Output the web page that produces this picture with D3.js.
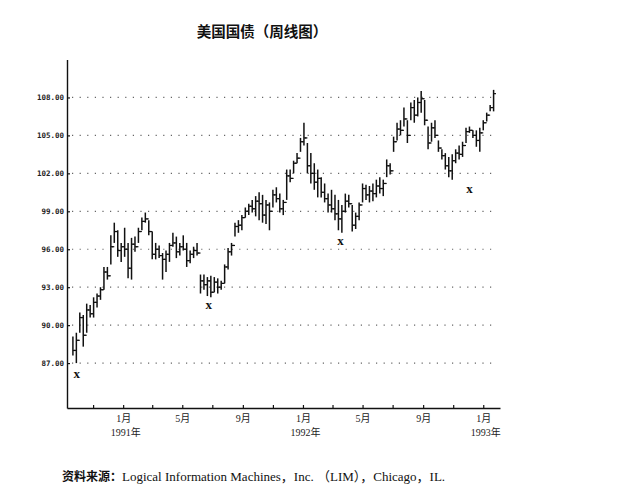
<!DOCTYPE html>
<html>
<head>
<meta charset="utf-8">
<script src="https://cdn.jsdelivr.net/npm/d3@7"></script>
<style>
  html, body { margin: 0; padding: 0; background: #fff; }
  svg { display: block; }
</style>
</head>
<body>
<svg id="chart" width="624" height="492"></svg>
<script>
// ---------------- DATA ----------------
const title = "美国国债（周线图）";
const sourceLabel = "资料来源：";
const sourceText = "Logical Information Machines，Inc. （LIM），Chicago，IL.";
const firstWeek = "1990-09-21";   // weekly bars, one per week from this Friday
const highs = [
  89.1, 89.4, 91.0, 90.8, 91.7, 91.6, 92.2, 92.5, 93.0, 94.6,
  94.6, 97.1, 98.1, 97.5, 96.5, 97.7, 96.5, 96.9, 97.0, 97.7,
  98.5, 98.9, 98.3, 97.4, 96.5, 96.3, 95.7, 95.9, 96.5, 97.3,
  97.0, 96.5, 97.1, 96.5, 95.9, 96.2, 96.5, 94.0, 94.0, 93.8,
  93.9, 93.8, 93.7, 93.5, 94.8, 96.1, 96.5, 98.1, 98.3, 98.7,
  99.3, 99.6, 99.9, 100.2, 100.5, 100.3, 99.9, 99.7, 100.7, 100.9,
  100.4, 99.9, 102.3, 102.3, 103.0, 103.6, 104.8, 106.0, 104.4, 103.6,
  102.8, 102.3, 101.7, 101.2, 100.4, 100.7, 100.3, 99.9, 99.5, 100.4,
  100.3, 99.5, 98.9, 99.7, 101.2, 101.1, 101.0, 101.2, 101.5, 101.7,
  101.5, 103.1, 102.8, 104.9, 106.0, 106.2, 107.2, 106.2, 107.6, 107.8,
  108.0, 108.5, 107.8, 105.7, 106.0, 106.2, 104.6, 103.9, 103.6, 103.3,
  103.5, 103.9, 104.2, 104.5, 105.6, 105.7, 105.4, 105.4, 105.6, 106.2,
  106.8, 107.4, 108.6
];
const lows = [
  87.6, 87.0, 89.4, 88.3, 89.4, 90.6, 90.6, 91.4, 92.0, 92.8,
  93.6, 94.8, 96.5, 95.4, 95.0, 95.4, 93.7, 93.6, 95.8, 96.5,
  97.5, 98.1, 97.1, 95.2, 95.2, 95.3, 93.6, 94.2, 95.0, 96.2,
  95.3, 95.5, 95.9, 94.6, 94.9, 95.3, 95.5, 92.5, 92.8, 92.3,
  92.2, 92.6, 92.5, 92.8, 93.3, 94.4, 95.5, 97.0, 97.3, 97.5,
  98.5, 98.7, 98.9, 98.6, 98.3, 98.1, 98.0, 97.5, 99.3, 99.7,
  98.9, 98.7, 99.9, 101.3, 102.0, 102.8, 103.7, 104.2, 102.0, 101.2,
  100.7, 100.1, 100.1, 99.7, 98.9, 98.9, 98.3, 97.5, 97.3, 98.9,
  99.3, 97.4, 97.6, 98.3, 99.7, 99.9, 99.7, 99.8, 100.1, 100.4,
  100.2, 101.7, 101.9, 103.7, 104.6, 105.0, 105.7, 104.4, 106.2, 106.0,
  106.5, 106.8, 105.8, 103.9, 104.5, 104.8, 103.7, 103.1, 102.3, 101.7,
  101.5, 102.8, 103.1, 103.3, 104.4, 105.2, 104.8, 104.1, 103.7, 105.4,
  106.1, 106.9, 106.9
];
const closes = [
  88.0, 88.8, 90.6, 89.2, 91.2, 90.9, 91.8, 92.3, 92.8, 94.2,
  93.9, 96.2, 97.4, 95.9, 96.2, 96.0, 94.5, 96.4, 96.2, 97.4,
  98.2, 98.4, 97.4, 95.6, 96.0, 95.5, 95.2, 95.6, 96.3, 96.5,
  95.8, 96.2, 96.0, 95.1, 95.6, 95.9, 95.7, 93.5, 93.2, 93.5,
  92.6, 93.4, 93.0, 93.3, 94.6, 95.8, 96.3, 97.8, 97.9, 98.5,
  99.0, 99.4, 99.2, 99.8, 99.6, 98.7, 99.5, 99.0, 100.3, 100.0,
  99.2, 99.7, 101.8, 101.6, 102.8, 103.2, 104.5, 104.8, 102.6, 102.0,
  101.3, 101.6, 100.5, 100.0, 99.5, 99.2, 98.8, 98.4, 99.0, 99.8,
  99.6, 97.9, 98.6, 99.5, 100.8, 100.3, 100.6, 100.4, 101.0, 100.8,
  101.2, 102.6, 102.2, 104.5, 105.5, 105.4, 106.3, 105.0, 107.2, 106.6,
  107.6, 107.9, 106.2, 104.4, 105.6, 105.0, 104.0, 103.4, 102.6, 102.2,
  103.0, 103.6, 103.5, 104.2, 105.3, 105.4, 105.0, 104.6, 105.2, 106.0,
  106.6, 107.2, 108.3
];
const yTickValues = [87, 90, 93, 96, 99, 102, 105, 108];
const monthLabelMonths = [0, 4, 8];            // Jan, May, Sep get labels
const yearLabels = ["1991年", "1992年", "1993年"];
const yearLabelDates = ["1991-01-01", "1992-01-01", "1993-01-01"];
// "x" markers at the major lows: date, price
const markerDates = ["1990-09-29", "1991-06-24", "1992-03-17", "1992-12-04"];
const markerPrices = [86.2, 91.6, 96.7, 100.8];

// ---------------- LAYOUT ----------------
const svg = d3.select("#chart");
const plot = { left: 67, right: 500, top: 59.5, bottom: 408 };
const parse = d3.timeParse("%Y-%m-%d");

const x = d3.scaleTime()
  .domain([parse("1990-09-09"), parse("1993-02-04")])
  .range([plot.left, plot.right]);
const y = d3.scaleLinear()
  .domain([83.45, 111.0])
  .range([plot.bottom, plot.top]);

const start = parse(firstWeek);
const bars = highs.map((h, i) => ({
  date: d3.timeWeek.offset(start, i),
  high: h, low: lows[i], close: closes[i],
  prevClose: i > 0 ? closes[i - 1] : null
}));

const serif = "'Liberation Serif', 'Noto Sans CJK SC', serif";

// Title
svg.append("text")
  .attr("x", 262).attr("y", 37)
  .attr("text-anchor", "middle")
  .attr("font-family", "'Noto Sans CJK SC', sans-serif")
  .attr("font-weight", "bold")
  .attr("font-size", 14.5)
  .attr("fill", "#111")
  .text(title);

// Dotted grid
svg.append("g").selectAll("line")
  .data(yTickValues)
  .join("line")
  .attr("x1", plot.left + 5).attr("x2", plot.right - 3)
  .attr("y1", d => y(d)).attr("y2", d => y(d))
  .attr("stroke", "#666")
  .attr("stroke-width", 1.2)
  .attr("stroke-dasharray", "1.2,6.4");

// Y axis
const yAxis = d3.axisLeft(y)
  .tickValues(yTickValues)
  .tickFormat(d => d.toFixed(2))
  .tickSizeInner(-3)
  .tickSizeOuter(0)
  .tickPadding(3);
const gy = svg.append("g")
  .attr("transform", `translate(${plot.left},0)`)
  .call(yAxis);
gy.select(".domain").attr("stroke", "#111").attr("stroke-width", 1.4);
gy.selectAll(".tick line").attr("stroke", "#111").attr("stroke-width", 1.2);
gy.selectAll(".tick text")
  .attr("font-family", "'DejaVu Sans Mono', monospace")
  .attr("font-size", 7.5)
  .attr("font-weight", "bold")
  .attr("fill", "#222");

// X axis
const xAxis = d3.axisBottom(x)
  .ticks(d3.timeMonth.every(2))
  .tickFormat(d => monthLabelMonths.includes(d.getMonth()) ? (d.getMonth() + 1) + "月" : "")
  .tickSizeInner(-3)
  .tickSizeOuter(0)
  .tickPadding(7);
const gx = svg.append("g")
  .attr("transform", `translate(0,${plot.bottom})`)
  .call(xAxis);
gx.select(".domain").attr("stroke", "#111").attr("stroke-width", 1.4);
gx.selectAll(".tick line").attr("stroke", "#111").attr("stroke-width", 1.2);
gx.selectAll(".tick text")
  .attr("font-family", serif)
  .attr("font-size", 10)
  .attr("fill", "#222");

// Year labels
const yearAxis = d3.axisBottom(x)
  .tickValues(yearLabelDates.map(parse))
  .tickFormat((d, i) => yearLabels[i])
  .tickSize(0)
  .tickPadding(21);
const gyear = svg.append("g")
  .attr("transform", `translate(2,${plot.bottom})`)
  .call(yearAxis);
gyear.select(".domain").remove();
gyear.selectAll(".tick text")
  .attr("font-family", serif)
  .attr("font-size", 10)
  .attr("fill", "#222");

// Weekly bars
const gb = svg.append("g").attr("stroke", "#111").attr("stroke-width", 1.5);
gb.selectAll("line.hl")
  .data(bars)
  .join("line")
  .attr("class", "hl")
  .attr("x1", d => x(d.date)).attr("x2", d => x(d.date))
  .attr("y1", d => y(d.high)).attr("y2", d => y(d.low));
gb.selectAll("line.cl")
  .data(bars)
  .join("line")
  .attr("class", "cl")
  .attr("stroke-width", 1.2)
  .attr("x1", d => x(d.date)).attr("x2", d => x(d.date) + 2.4)
  .attr("y1", d => y(d.close)).attr("y2", d => y(d.close));
gb.selectAll("line.op")
  .data(bars.filter(d => d.prevClose !== null))
  .join("line")
  .attr("class", "op")
  .attr("stroke-width", 1.2)
  .attr("x1", d => x(d.date) - 2.4).attr("x2", d => x(d.date))
  .attr("y1", d => y(d.prevClose)).attr("y2", d => y(d.prevClose));

// "x" markers
svg.append("g").selectAll("text")
  .data(markerDates.map((d, i) => ({ date: parse(d), price: markerPrices[i] })))
  .join("text")
  .attr("x", d => x(d.date))
  .attr("y", d => y(d.price))
  .attr("text-anchor", "middle")
  .attr("dominant-baseline", "central")
  .attr("font-family", serif)
  .attr("font-weight", "bold")
  .attr("font-size", 13)
  .attr("fill", "#111")
  .text("x");

// Source line
const src = svg.append("text")
  .attr("x", 62).attr("y", 481)
  .attr("fill", "#111");
src.append("tspan")
  .attr("font-family", "'Noto Sans CJK SC', sans-serif")
  .attr("font-weight", "bold")
  .attr("font-size", 12)
  .text(sourceLabel);
src.append("tspan")
  .attr("font-family", serif)
  .attr("font-size", 13)
  .text(sourceText);
</script>
</body>
</html>
